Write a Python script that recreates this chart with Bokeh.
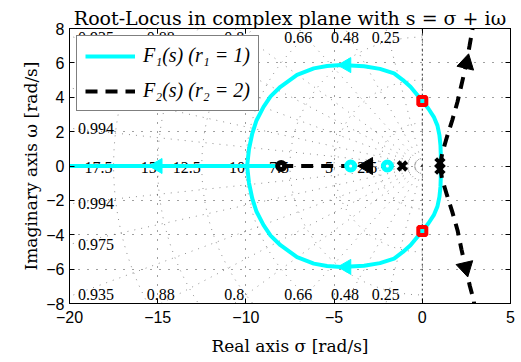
import numpy as np
from bokeh.plotting import figure
from bokeh.models import (Range1d, LinearAxis, FixedTicker, Legend, LegendItem)
from bokeh.core.properties import value
from bokeh.embed import file_html
from bokeh.resources import INLINE

# ---------------- data ----------------
X_TICKS = [-20, -15, -10, -5, 0, 5]
X_TICK_LABELS = ["−20", "−15", "−10", "−5", "0", "5"]
Y_TICKS = [-8, -6, -4, -2, 0, 2, 4, 6, 8]
Y_TICK_LABELS = ["−8", "−6", "−4", "−2", "0", "2", "4", "6", "8"]

ZETA = [0.25, 0.48, 0.66, 0.8, 0.88, 0.935, 0.975, 0.994]
ZETA_LABELS = ["0.25", "0.48", "0.66", "0.8", "0.88", "0.935", "0.975", "0.994"]
WN = [2.5, 5.0, 7.5, 10.0, 12.5, 15.0, 17.5]
WN_LABELS = ["2.5", "5", "7.5", "10", "12.5", "15", "17.5"]

# F1(s) locus (cyan): complex arcs and real-axis branch
F1_UP_RE = [1.05, 1.05, 1.03, 0.97, 0.86, 0.65, 0.35, 0.0, -0.67, -1.1, -1.6, -2.4,
            -3.3, -4.6, -5.4, -6.15, -7.1, -8.04, -8.6, -9.0, -9.4, -9.64, -9.83, -9.93]
F1_UP_IM = [0.0, 0.6, 1.2, 1.8, 2.35, 2.86, 3.33, 3.78, 4.61, 5.0, 5.39, 5.65,
            5.8, 5.87, 5.82, 5.68, 5.3, 4.61, 4.05, 3.44, 2.65, 1.89, 0.95, 0.0]
F1_DN_RE = [1.05, 1.05, 1.03, 0.97, 0.86, 0.65, 0.35, 0.0, -0.67, -1.1, -1.6, -2.4,
            -3.3, -4.6, -5.4, -6.15, -7.1, -8.04, -8.6, -9.0, -9.4, -9.64, -9.83, -9.93]
F1_DN_IM = [0.0, -0.6, -1.2, -1.8, -2.35, -2.86, -3.33, -3.78, -4.61, -5.0, -5.39, -5.65,
            -5.8, -5.87, -5.82, -5.68, -5.3, -4.61, -4.05, -3.44, -2.65, -1.89, -0.95, 0.0]
F1_REAL_RE = [-20.5, -9.93, -8.0]
F1_REAL_IM = [0.0, 0.0, 0.0]

# F2(s) locus (black dashed)
F2_UP_RE = [1.0, 1.13, 1.4, 1.7, 2.0, 2.25, 2.5, 2.68, 2.85, 2.9]
F2_UP_IM = [0.0, 0.74, 1.7, 2.67, 3.75, 4.85, 5.97, 7.0, 8.0, 8.4]
F2_DN_RE = [1.0, 1.12, 1.4, 1.7, 2.0, 2.22, 2.45, 2.7, 2.92, 2.97]
F2_DN_IM = [0.0, -0.74, -1.7, -2.67, -3.75, -4.85, -5.9, -7.0, -7.82, -8.4]
F2_REAL_RE = [-8.0, -1.13]
F2_REAL_IM = [0.0, 0.0]

# special points
ZERO_RE, ZERO_IM = [-8.0], [0.0]
F1_PT_RE, F1_PT_IM = [-4.06, -1.98], [0.0, 0.0]
POLE_RE, POLE_IM = [-1.13, 1.0, 1.0], [0.0, 0.18, -0.18]
CROSS_RE, CROSS_IM = [0.0, 0.0], [3.78, -3.78]

# direction arrows on the loci
F1_ARROW_RE, F1_ARROW_IM = [-4.3, -4.3, -15.0], [5.87, -5.87, 0.0]
F2_ARROW_RE, F2_ARROW_IM = [2.5, 2.45, -3.1], [5.97, -5.9, 0.0]

XMIN, XMAX, YMIN, YMAX = -20, 5, -8, 8

# ---------------- figure ----------------
p = figure(width=521, height=362, x_range=Range1d(XMIN, XMAX), y_range=Range1d(YMIN, YMAX),
           output_backend="svg", toolbar_location=None,
           min_border_left=69, min_border_right=11, min_border_top=28, min_border_bottom=59,
           title="Root-Locus in complex plane with s = σ + iω")
p.background_fill_color = "white"
p.border_fill_color = "white"
p.outline_line_color = "black"
p.outline_line_width = 1

p.title.align = "center"
p.title.text_font = "DejaVu Serif"
p.title.text_font_size = "19px"
p.title.text_font_style = "normal"
p.title.text_color = "black"
p.title.standoff = 0

TICK_FONT = "Liberation Sans"

def style_axis(ax, ticks, labels, show_labels=True):
    ax.ticker = FixedTicker(ticks=ticks)
    if show_labels:
        ax.major_label_overrides = {t: l for t, l in zip(ticks, labels)}
    else:
        ax.major_label_overrides = {t: "" for t in ticks}
    ax.major_tick_in = 5
    ax.major_tick_out = 0
    ax.minor_tick_in = 0
    ax.minor_tick_out = 0
    ax.axis_line_color = "black"
    ax.major_tick_line_color = "black"
    ax.major_label_text_font = TICK_FONT
    ax.major_label_text_font_size = "16px" if show_labels else "1px"
    ax.major_label_text_color = "black"

style_axis(p.xaxis[0], X_TICKS, X_TICK_LABELS)
style_axis(p.yaxis[0], Y_TICKS, Y_TICK_LABELS)
p.xaxis.major_label_standoff = 7
p.yaxis.major_label_standoff = 5
p.xaxis.axis_label = "Real axis σ [rad/s]"
p.yaxis.axis_label = "Imaginary axis ω [rad/s]"
for ax in (p.xaxis[0], p.yaxis[0]):
    ax.axis_label_text_font = "DejaVu Serif"
    ax.axis_label_text_font_size = "17px"
    ax.axis_label_text_font_style = "normal"
    ax.axis_label_text_color = "black"
p.xaxis.axis_label_standoff = 10
p.yaxis.axis_label_standoff = 2

ax_r = LinearAxis()
style_axis(ax_r, Y_TICKS, Y_TICK_LABELS, show_labels=False)
ax_r.major_label_standoff = 0
p.add_layout(ax_r, "right")
ax_t = LinearAxis()
style_axis(ax_t, X_TICKS, X_TICK_LABELS, show_labels=False)
ax_t.major_label_standoff = 0
p.add_layout(ax_t, "above")

# rectangular dotted grid
p.xgrid.ticker = FixedTicker(ticks=X_TICKS)
p.ygrid.ticker = FixedTicker(ticks=Y_TICKS)
for g in (p.xgrid[0], p.ygrid[0]):
    g.grid_line_color = "black"
    g.grid_line_dash = "1 8"
    g.grid_line_alpha = 0.75
    g.grid_line_width = 1

# ---------------- s-grid (damping rays, natural-frequency arcs) ----------------
R = 40.0
ray_xs, ray_ys = [], []
for z in ZETA:
    th = np.arccos(z)
    for sg in (1, -1):
        ray_xs.append([0.0, -R * np.cos(th)])
        ray_ys.append([0.0, sg * R * np.sin(th)])
p.multi_line(ray_xs, ray_ys, line_color="#444444", line_alpha=0.6, line_width=1,
             line_dash="1 6")
p.line([0.0, 0.0], [YMIN - 1, YMAX + 1], line_color="black", line_width=1,
       line_dash="2 3", line_alpha=0.8)

arc_xs, arc_ys = [], []
t = np.linspace(np.pi / 2, 3 * np.pi / 2, 181)
for w in WN:
    arc_xs.append(list(w * np.cos(t)))
    arc_ys.append(list(w * np.sin(t)))
p.multi_line(arc_xs, arc_ys, line_color="#444444", line_alpha=0.6, line_width=1,
             line_dash="1 6")

# damping labels at the frame edges
zl_x, zl_y, zl_t = [], [], []
for z, lab in zip(ZETA, ZETA_LABELS):
    slope = np.tan(np.arccos(z))
    xe = YMAX / slope
    if xe <= 18.5:
        lx, ly = -xe, 7.47
    else:
        lx, ly = -18.5, min(-XMIN * slope, 7.47)
    for sg in (1, -1):
        zl_x.append(lx)
        zl_y.append(sg * ly)
        zl_t.append(lab)
p.text(x=zl_x, y=zl_y, text=zl_t, text_font=value("Liberation Serif"),
       text_font_size="16px", text_align="center", text_baseline="middle",
       text_color="black")

# natural-frequency labels on the real axis
p.text(x=[-w for w in WN], y=[0.0] * len(WN), text=WN_LABELS,
       text_font=value("Liberation Serif"), text_font_size="16px",
       text_align="right", text_baseline="alphabetic", x_offset=-1, y_offset=1,
       text_color="black")

# ---------------- loci ----------------
CYAN = "#00FFFF"
f1_real = p.line(F1_REAL_RE, F1_REAL_IM, line_color=CYAN, line_width=4)
p.line(F1_UP_RE, F1_UP_IM, line_color=CYAN, line_width=4, line_join="round")
p.line(F1_DN_RE, F1_DN_IM, line_color=CYAN, line_width=4, line_join="round")

f2_real = p.line(F2_REAL_RE, F2_REAL_IM, line_color="black", line_width=4, line_dash="12 8")
p.line(F2_UP_RE, F2_UP_IM, line_color="black", line_width=4, line_dash="12 8")
p.line(F2_DN_RE, F2_DN_IM, line_color="black", line_width=4, line_dash="12 8")

# arrows
p.scatter(F1_ARROW_RE, F1_ARROW_IM, marker="triangle", size=15,
          angle=[np.pi / 2, np.pi / 2, np.pi / 2], fill_color=CYAN, line_color=CYAN)
p.scatter(F2_ARROW_RE, F2_ARROW_IM, marker="triangle", size=17,
          angle=[-0.23, np.pi + 0.23, np.pi / 2], fill_color="black", line_color="black")

# markers
p.scatter(F1_PT_RE, F1_PT_IM, marker="circle", size=8, fill_color="white",
          line_color=CYAN, line_width=5)
p.scatter(ZERO_RE, ZERO_IM, marker="circle", size=7, fill_color="white",
          line_color="black", line_width=5)
p.scatter(POLE_RE, POLE_IM, marker="x", size=12, line_color="black", line_width=4)
p.scatter(CROSS_RE, CROSS_IM, marker="square", size=8, fill_color=CYAN,
          line_color="red", line_width=4)

# ---------------- legend ----------------
legend = Legend(items=[LegendItem(label="F₁(s) (r₁ = 1)", renderers=[f1_real]),
                       LegendItem(label="F₂(s) (r₂ = 2)", renderers=[f2_real])],
                location="top_left")
legend.margin = 7
legend.padding = 8
legend.spacing = 12
legend.glyph_width = 50
legend.glyph_height = 20
legend.label_height = 20
legend.label_standoff = 8
legend.label_text_font = "Liberation Serif"
legend.label_text_font_style = "italic"
legend.label_text_font_size = "20px"
legend.label_text_color = "black"
legend.border_line_color = "black"
legend.border_line_width = 1
legend.background_fill_color = "white"
legend.background_fill_alpha = 1.0
p.add_layout(legend, "center")

open("out.html", "w").write(file_html(p, INLINE))
